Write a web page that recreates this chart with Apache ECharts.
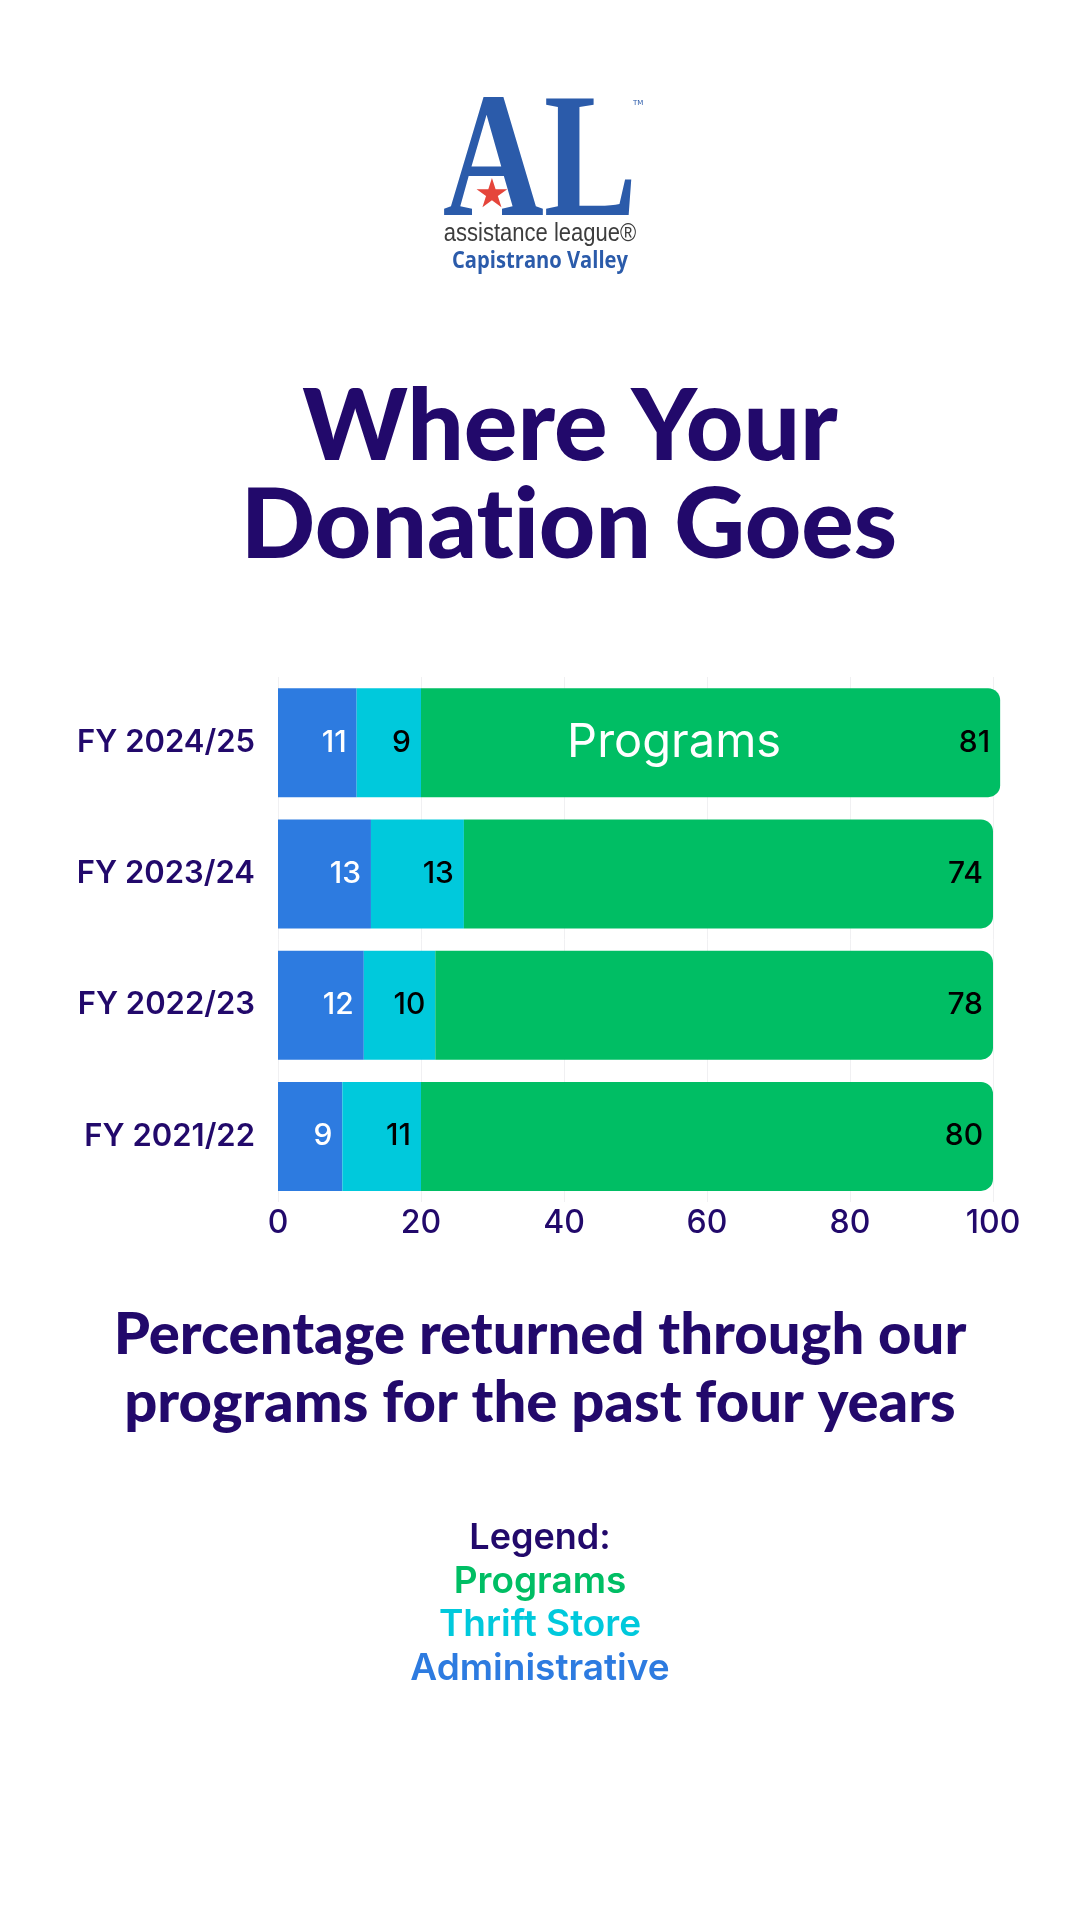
<!DOCTYPE html>
<html>
<head>
<meta charset="utf-8">
<script src="https://cdn.jsdelivr.net/npm/echarts@6/dist/echarts.min.js"></script>
<style>
html,body{margin:0;padding:0;background:#fff;}
#chart{width:1080px;height:1920px;}
</style>
</head>
<body>
<div id="chart"></div>
<script>
// ---- data ----
const categories = ['FY 2021/22', 'FY 2022/23', 'FY 2023/24', 'FY 2024/25'];
const administrative = [9, 12, 13, 11];
const thriftStore = [11, 10, 13, 9];
const programs = [80, 78, 74, 81];
const seriesNames = ['Administrative', 'Thrift Store', 'Programs'];
const xTicks = [0, 20, 40, 60, 80, 100];

const C_ADMIN = '#2D7BE0';
const C_THRIFT = '#00C9DC';
const C_PROG = '#00BE64';
const INDIGO = '#22096B';

const chart = echarts.init(document.getElementById('chart'), null, {renderer: 'canvas'});

const valueLabel = (color) => ({
  show: true,
  position: 'insideRight',
  distance: 10,
  color: color,
  fontFamily: 'Inter',
  fontWeight: 500,
  fontSize: 30
});

const option = {
  backgroundColor: '#ffffff',
  animation: false,
  grid: {left: 278, right: 87, top: 677, bottom: 718, containLabel: false},
  xAxis: {
    type: 'value',
    min: xTicks[0],
    max: xTicks[xTicks.length - 1],
    interval: 20,
    axisLine: {show: false},
    axisTick: {show: false},
    splitLine: {show: true, lineStyle: {color: '#f0f0f2', width: 1}},
    axisLabel: {
      color: INDIGO, fontFamily: 'Inter', fontWeight: 500, fontSize: 32, margin: 5
    }
  },
  yAxis: {
    type: 'category',
    data: categories,
    axisLine: {show: false},
    axisTick: {show: false},
    axisLabel: {
      color: INDIGO, fontFamily: 'Inter', fontWeight: 600, fontSize: 31, margin: 23
    }
  },
  series: [
    {
      name: seriesNames[0], type: 'bar', stack: 'total', data: administrative,
      barWidth: 109, clip: false,
      itemStyle: {color: C_ADMIN},
      label: valueLabel('#ffffff')
    },
    {
      name: seriesNames[1], type: 'bar', stack: 'total', data: thriftStore,
      barWidth: 109, clip: false,
      itemStyle: {color: C_THRIFT},
      label: valueLabel('#000000')
    },
    {
      name: seriesNames[2], type: 'bar', stack: 'total', data: programs,
      barWidth: 109, clip: false,
      itemStyle: {color: C_PROG, borderRadius: [0, 12, 12, 0]},
      label: valueLabel('#000000'),
      markPoint: {
        symbol: 'circle', symbolSize: 0, silent: true,
        data: [{coord: [55.4, categories[3]]}],
        label: {
          show: true, position: 'inside', formatter: seriesNames[2],
          color: '#ffffff', fontFamily: 'Inter', fontWeight: 400, fontSize: 47
        }
      }
    }
  ],
  graphic: [
    // logo
    {type: 'text', x: 540, y: 169, scaleY: 1.27, style: {
      text: 'AL', fill: '#2B5BAA', font: 'bold 140px "Liberation Serif"',
      align: 'center', verticalAlign: 'middle'}},
    {type: 'text', x: 633, y: 103, style: {
      text: 'TM', fill: '#2B5BAA', font: '7px "DejaVu Sans"', align: 'left', verticalAlign: 'middle'}},
    {type: 'text', x: 492, y: 197, style: {
      text: '★', fill: '#E5453B', font: '40px "DejaVu Sans"', align: 'center', verticalAlign: 'middle'}},
    {type: 'text', x: 540, y: 234, scaleX: 0.88, style: {
      text: 'assistance league®', fill: '#3d3d3d', font: '25px "Liberation Sans"',
      align: 'center', verticalAlign: 'middle'}},
    {type: 'text', x: 540, y: 261, scaleX: 0.84, style: {
      text: 'Capistrano Valley', fill: '#2B5BAA', font: 'bold 24px "Open Sans"',
      align: 'center', verticalAlign: 'middle'}},
    // title
    {type: 'text', x: 570, y: 428, style: {
      text: 'Where Your', fill: INDIGO, font: '900 100px Lato',
      align: 'center', verticalAlign: 'middle'}},
    {type: 'text', x: 569, y: 526, style: {
      text: 'Donat\u200Cion Goes', fill: INDIGO, font: '900 98px Lato',
      align: 'center', verticalAlign: 'middle'}},
    // subtitle
    {type: 'text', x: 540, y: 1335, style: {
      text: 'Percentage returned through our', fill: INDIGO, font: '900 58px Lato',
      align: 'center', verticalAlign: 'middle'}},
    {type: 'text', x: 540, y: 1403, style: {
      text: 'programs for the past four years', fill: INDIGO, font: '900 58px Lato',
      align: 'center', verticalAlign: 'middle'}},
    // legend text
    {type: 'text', x: 540, y: 1538, style: {
      text: 'Legend:', fill: INDIGO, font: '600 36px Inter', align: 'center', verticalAlign: 'middle'}},
    {type: 'text', x: 540, y: 1582, style: {
      text: seriesNames[2], fill: C_PROG, font: '600 37px Inter', align: 'center', verticalAlign: 'middle'}},
    {type: 'text', x: 540, y: 1625, style: {
      text: seriesNames[1], fill: C_THRIFT, font: '600 37px Inter', align: 'center', verticalAlign: 'middle'}},
    {type: 'text', x: 540, y: 1669, style: {
      text: seriesNames[0], fill: C_ADMIN, font: '600 37px Inter', align: 'center', verticalAlign: 'middle'}}
  ]
};
chart.setOption(option);
</script>
</body>
</html>
